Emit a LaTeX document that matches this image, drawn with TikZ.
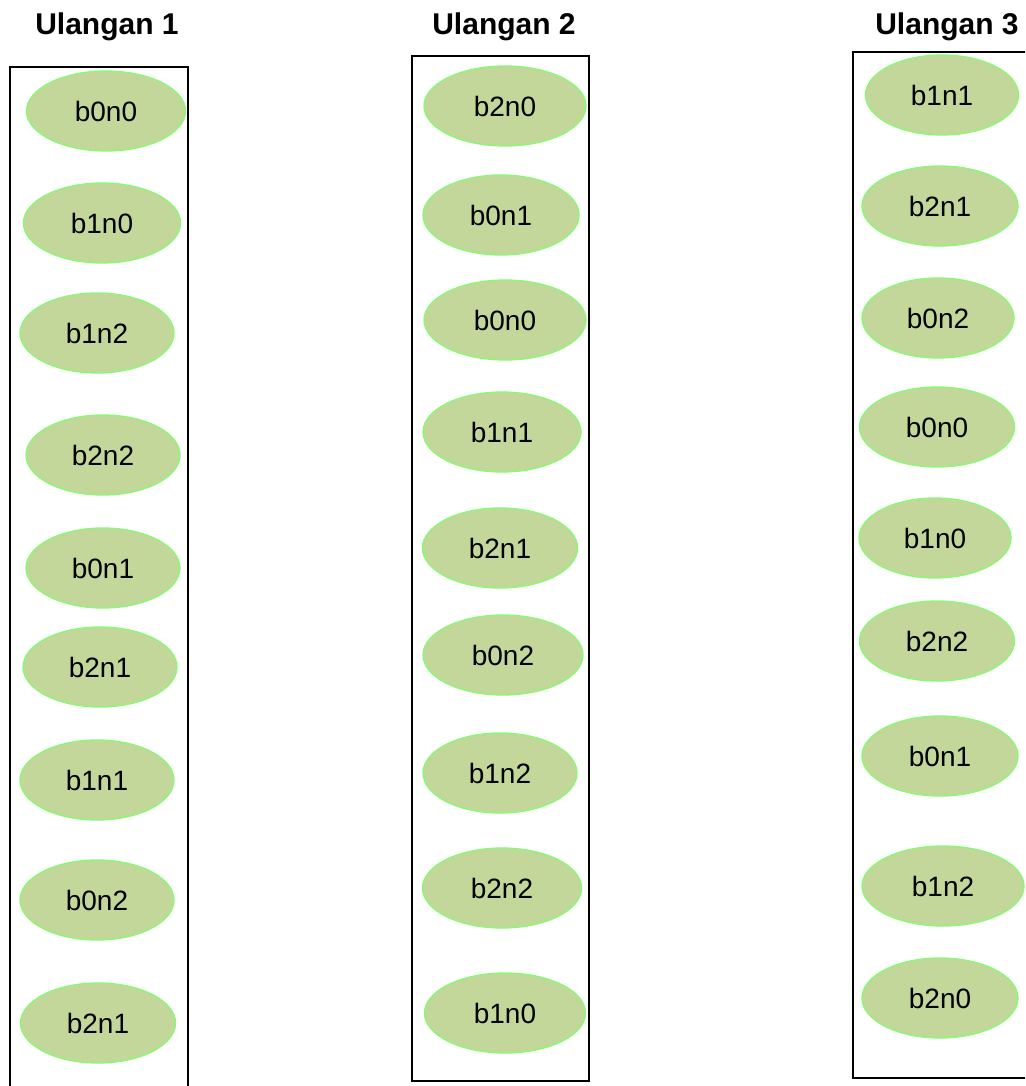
\documentclass[tikz,border=0pt]{standalone}
\usepackage{fontspec}
\setmainfont{Liberation Sans}
\usetikzlibrary{shapes.geometric}
\definecolor{elfill}{RGB}{196,215,155}
\definecolor{eldraw}{RGB}{135,250,115}
\begin{document}
\begin{tikzpicture}[x=1pt,y=-1pt,
  item/.style={ellipse, draw=eldraw, fill=elfill, line width=1.3pt,
    minimum height=80pt, inner sep=0pt, font=\fontsize{28}{30}\selectfont},
  head/.style={anchor=base, inner sep=0pt, font=\bfseries\fontsize{30}{32}\selectfont},
  colbox/.style={draw=black, line width=1.6pt}]
\useasboundingbox (0,0) rectangle (1025,1086);
\clip (0,0) rectangle (1025,1086);
\fill[white] (0,0) rectangle (1025,1086);
% headings
\node[head] (h1) at (107,35) {Ulangan 1};
\node[head] (h2) at (504,35) {Ulangan 2};
\node[head] (h3) at (947,35) {Ulangan 3};
% column boxes
\draw[colbox] (10,67) rectangle (188,1100);
\draw[colbox] (412,56) rectangle (589,1081);
\draw[colbox] (853,52) rectangle (1040,1078);
% column 1
\node[item, minimum width=159pt] (a1) at (106,111) {b0n0};
\node[item, minimum width=157pt] (a2) at (102,223) {b1n0};
\node[item, minimum width=154pt] (a3) at (97,333) {b1n2};
\node[item, minimum width=154pt] (a4) at (103,455) {b2n2};
\node[item, minimum width=154pt] (a5) at (103,568) {b0n1};
\node[item, minimum width=154pt] (a6) at (100,667) {b2n1};
\node[item, minimum width=154pt] (a7) at (97,780) {b1n1};
\node[item, minimum width=154pt] (a8) at (97,900) {b0n2};
\node[item, minimum width=155pt] (a9) at (98,1023) {b2n1};
% column 2
\node[item, minimum width=162pt] (b1) at (505,106) {b2n0};
\node[item, minimum width=156pt] (b2) at (501,215) {b0n1};
\node[item, minimum width=162pt] (b3) at (505,320) {b0n0};
\node[item, minimum width=158pt] (b4) at (502,432) {b1n1};
\node[item, minimum width=155pt] (b5) at (500,548) {b2n1};
\node[item, minimum width=160pt] (b6) at (503,655) {b0n2};
\node[item, minimum width=154pt] (b7) at (500,773) {b1n2};
\node[item, minimum width=159pt] (b8) at (502,888) {b2n2};
\node[item, minimum width=161pt] (b9) at (505,1013) {b1n0};
% column 3
\node[item, minimum width=153pt] (c1) at (942,95) {b1n1};
\node[item, minimum width=156pt] (c2) at (940,206) {b2n1};
\node[item, minimum width=152pt] (c3) at (938,318) {b0n2};
\node[item, minimum width=155pt] (c4) at (937,427) {b0n0};
\node[item, minimum width=152pt] (c5) at (935,538) {b1n0};
\node[item, minimum width=155pt] (c6) at (937,641) {b2n2};
\node[item, minimum width=156pt] (c7) at (940,756) {b0n1};
\node[item, minimum width=162pt] (c8) at (943,886) {b1n2};
\node[item, minimum width=156pt] (c9) at (940,998) {b2n0};
\end{tikzpicture}
\end{document}
